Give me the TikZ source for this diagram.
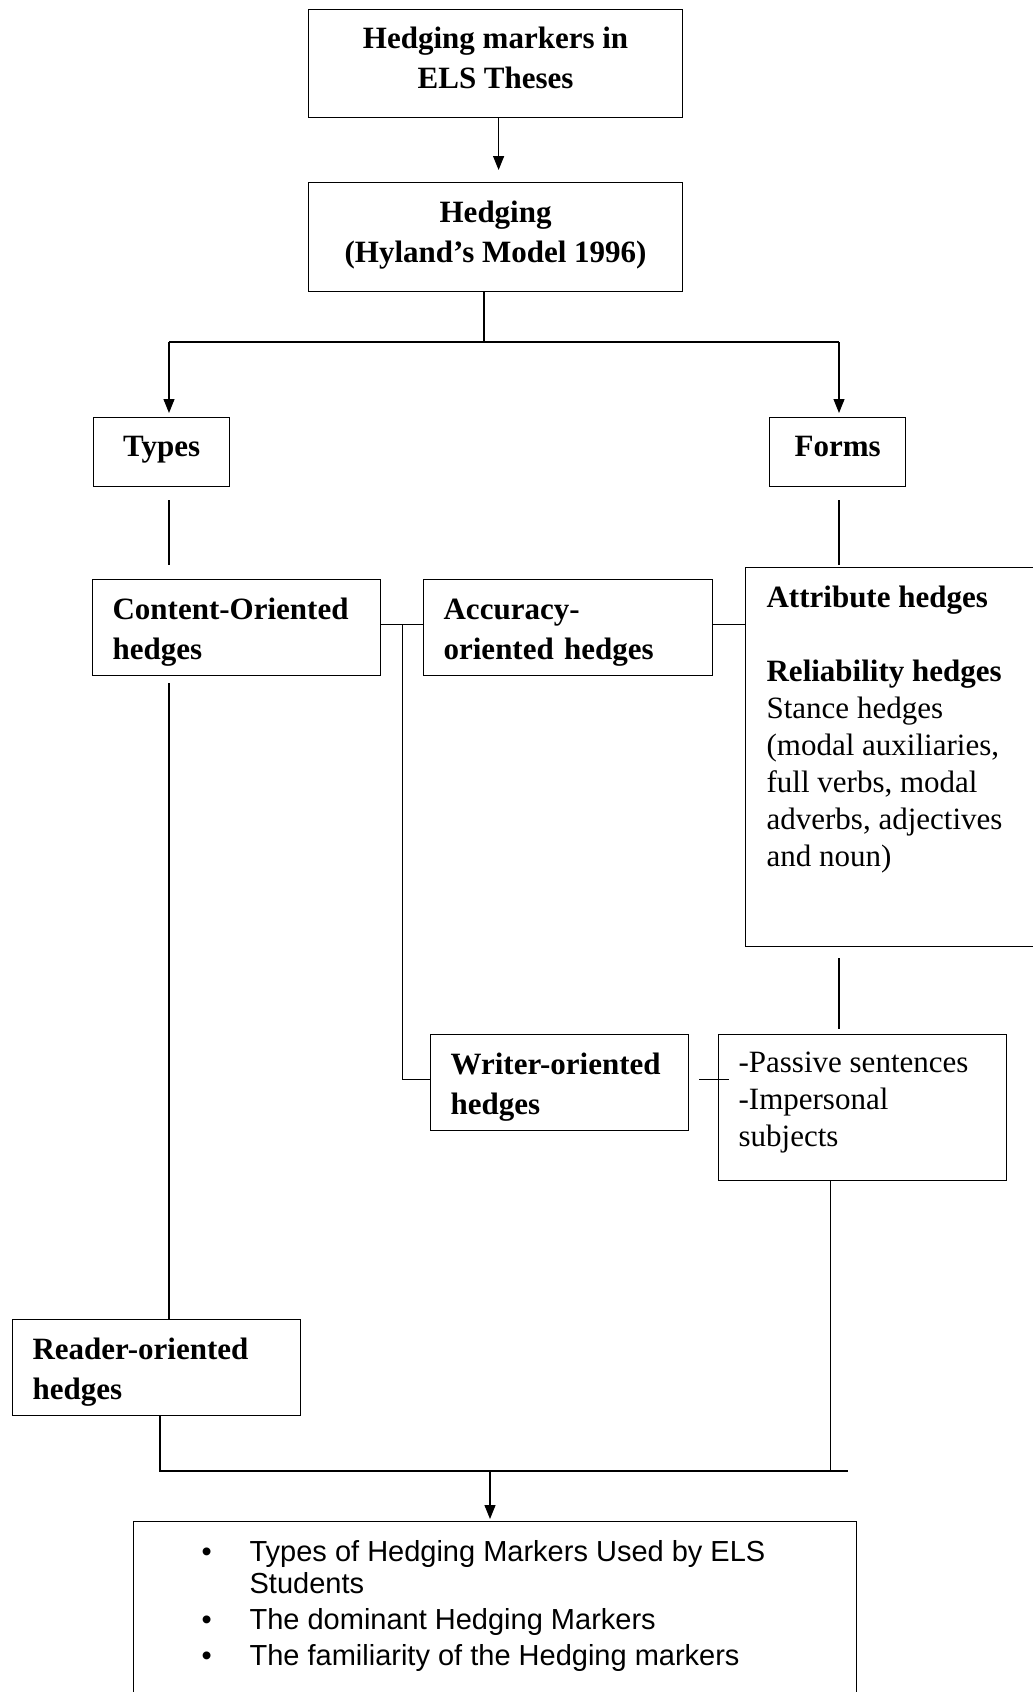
\documentclass[tikz,border=0pt]{standalone}
\usepackage{fontspec}
\setmainfont{Liberation Serif}
\newfontfamily\arialfont{Liberation Sans}
\usetikzlibrary{positioning}
\usetikzlibrary{arrows.meta}
\usetikzlibrary{calc}

\newcommand{\boxfont}{\fontsize{31}{40}\selectfont\bfseries}
\newcommand{\formfont}{\fontsize{31}{37}\selectfont}
\newcommand{\listfont}{\arialfont\fontsize{29}{32}\selectfont}

\begin{document}
\begin{tikzpicture}[x=1pt,y=-1pt,line width=1.2pt,>={Triangle[length=14pt,width=11pt]},
	hbox/.style={draw,inner sep=0pt,anchor=north west,font=\boxfont},
	mbox/.style={hbox,align=center,execute at end node={\rule[-11pt]{0pt}{0pt}}},
	lbox/.style={hbox,align=left,inner xsep=20pt,execute at begin node={\rule{0pt}{30pt}}}]
	\useasboundingbox (0,0) rectangle (1033,1692);

	\node [mbox,minimum width=374pt,minimum height=108pt] (markers) at (308,9) {Hedging markers in\\ELS Theses};
	\node [mbox,minimum width=374pt,minimum height=109pt] (hedging) at (308,182) {Hedging\\(Hyland’s Model 1996)};
	\node [mbox,minimum width=136pt,minimum height=69pt] (types) at (93,417) {Types};
	\node [mbox,minimum width=136pt,minimum height=69pt] (forms) at (769,417) {Forms};
	\node [lbox,text width=248pt,minimum height=96pt] (content) at (92,579) {Content-Oriented\\hedges};
	\node [lbox,text width=249pt,minimum height=96pt] (accuracy) at (423,579) {Accuracy-\\oriented hedges};
	\node [hbox,inner xsep=21pt,font=\formfont] (attribute) at (745,567) {%
		\begin{minipage}[t][379pt][t]{270pt}\vspace*{18pt}%
		\textbf{Attribute hedges}\\[37pt]
		\textbf{Reliability hedges}\\
		Stance hedges\\
		(modal auxiliaries,\\
		full verbs, modal\\
		adverbs, adjectives\\
		and noun)
		\end{minipage}};
	\node [lbox,text width=218pt,minimum height=96pt] (writer) at (430,1034) {Writer-oriented\\hedges};
	\node [hbox,inner xsep=20pt,font=\formfont] (passive) at (718,1034) {%
		\begin{minipage}[t][146pt][t]{248pt}\vspace*{17pt}%
		-Passive sentences\\
		-Impersonal\\
		subjects
		\end{minipage}};
	\node [lbox,text width=248pt,minimum height=96pt] (reader) at (12,1319) {Reader-oriented\\hedges};
	\node [hbox,font=\listfont] (result) at (133,1521) {%
		\begin{minipage}[t][200pt][t]{723pt}\vspace*{19pt}\leftskip=68pt
		\hangindent=48pt\hangafter=1\noindent\makebox[48pt][l]{\textbullet}Types of Hedging Markers Used by ELS\\Students\par
		\vspace{4pt}
		\noindent\makebox[48pt][l]{\textbullet}The dominant Hedging Markers\par
		\vspace{4pt}
		\noindent\makebox[48pt][l]{\textbullet}The familiarity of the Hedging markers\par
		\end{minipage}};

	\coordinate (split) at (484,342);
	\coordinate (tleft) at (169,342);
	\coordinate (tright) at (839,342);
	\coordinate (bleft) at (160,1471);
	\coordinate (bright) at (848,1471);
	\coordinate (bmid) at (490,1471);
	\coordinate (wjoin) at ($([yshift=3pt]content.east)!0.5!([yshift=3pt]accuracy.west)$);

	\draw [->] ([xshift=3pt]markers.south) -- ([xshift=3pt,yshift=12pt]hedging.north);
	\draw (split |- hedging.south) -- (split);
	\draw (tleft) -- (tright);
	\draw [->] (tleft) -- ([yshift=4pt]tleft |- types.north);
	\draw [->] (tright) -- ([yshift=4pt]tright |- forms.north);
	\draw ([yshift=-13pt]tleft |- types.south) -- ([yshift=14pt]tleft |- content.north);
	\draw ([yshift=-13pt]tright |- forms.south) -- ([yshift=2pt]tright |- attribute.north);
	\draw ([yshift=3pt]content.east) -- ([yshift=3pt]accuracy.west);
	\draw (wjoin) |- ([yshift=3pt]writer.west);
	\draw ([yshift=3pt]accuracy.east) -- ([yshift=3pt]accuracy.east -| attribute.west);
	\draw ([yshift=-11pt]tright |- attribute.south) -- ([yshift=5pt]tright |- passive.north);
	\draw ([xshift=10pt,yshift=3pt]writer.east) -- ([xshift=11pt,yshift=3pt]passive.west |- writer.east);
	\draw ([yshift=-7pt]tleft |- content.south) -- (tleft |- reader.north);
	\draw (bleft |- reader.south) -- (bleft) -- (bright);
	\draw ([xshift=-32pt]passive.south) -- ([xshift=-32pt]passive.south |- bleft);
	\draw [->] (bmid) -- ([yshift=2pt]bmid |- result.north);
\end{tikzpicture}
\end{document}
